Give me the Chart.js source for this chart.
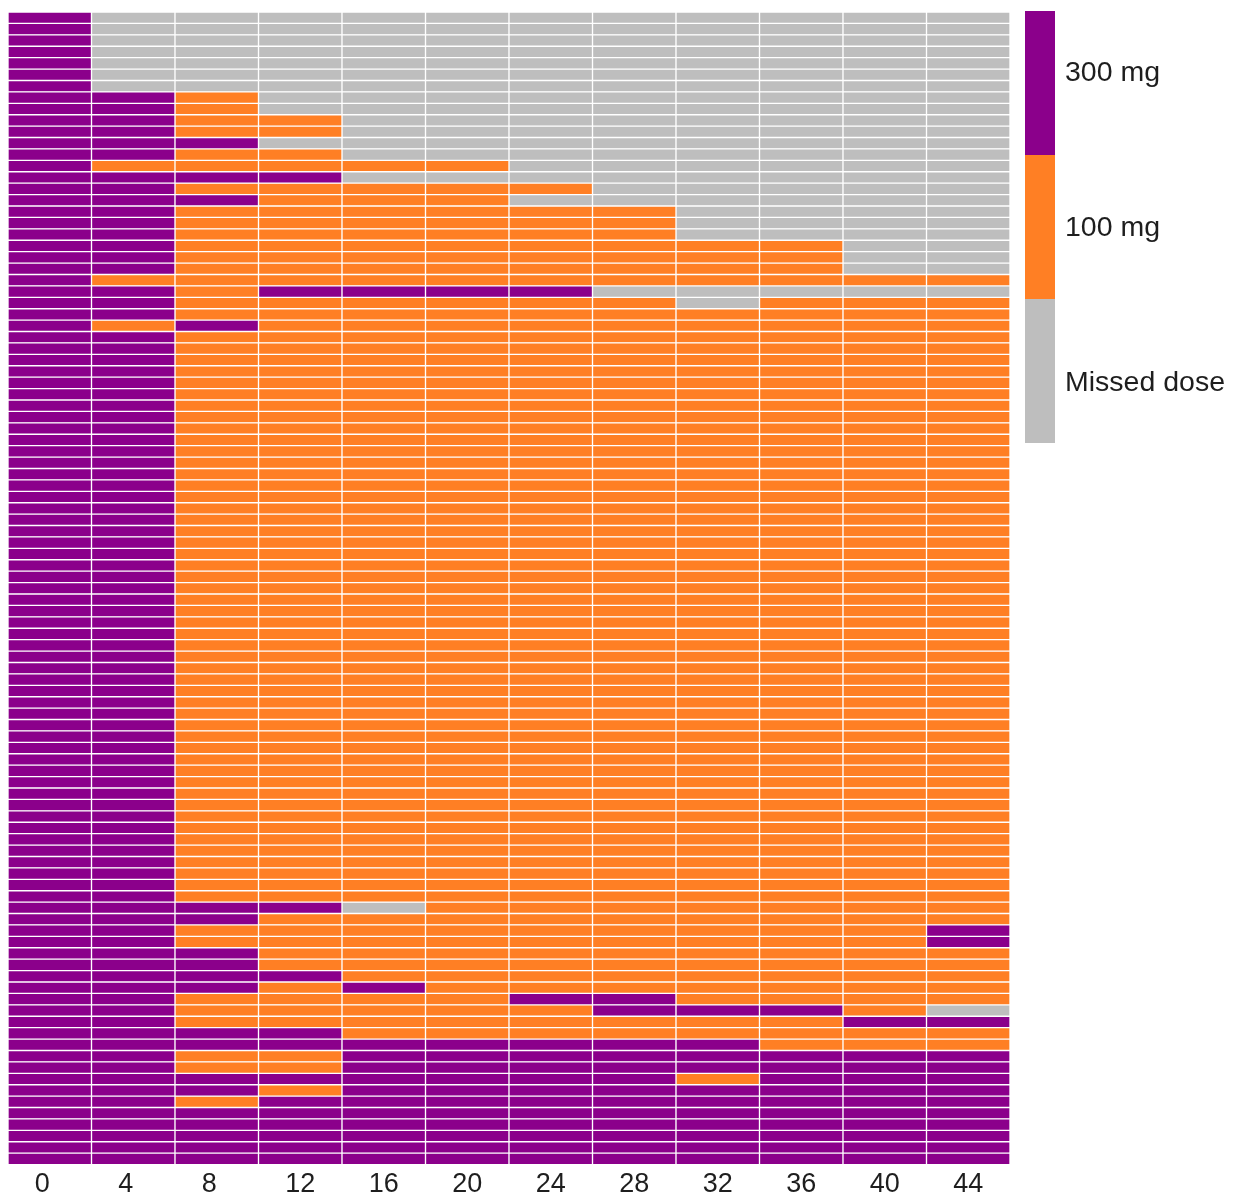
<!DOCTYPE html>
<html>
<head>
<meta charset="utf-8">
<script src="https://cdn.jsdelivr.net/npm/chart.js@4/dist/chart.umd.min.js"></script>
<style>
  html, body { margin: 0; padding: 0; background: #ffffff; }
  #wrap { width: 1239px; height: 1196px; position: relative; }
</style>
</head>
<body>
<div id="wrap"><canvas id="c" width="1239" height="1196"></canvas></div>
<script>
// Week categories (x axis tick labels)
const weeks = ['0', '4', '8', '12', '16', '20', '24', '28', '32', '36', '40', '44'];

// Dose status legend
const statusCodes = ['P', 'O', 'G'];
const statusLabels = ['300 mg', '100 mg', 'Missed dose'];
const statusColors = ['#8B008B', '#FF7F24', '#BEBEBE'];

// One string per week, one character per patient row (top to bottom), 101 patients.
// P = 300 mg, O = 100 mg, G = missed dose
const week0  = "PPPPPPPPPP PPPPPPPPPP PPPPPPPPPP PPPPPPPPPP PPPPPPPPPP PPPPPPPPPP PPPPPPPPPP PPPPPPPPPP PPPPPPPPPP PPPPPPPPPP P";
const week4  = "GGGGGGGPPP PPPOPPPPPP PPPOPPPOPP PPPPPPPPPP PPPPPPPPPP PPPPPPPPPP PPPPPPPPPP PPPPPPPPPP PPPPPPPPPP PPPPPPPPPP P";
const week8  = "GGGGGGGOOO OPOOPOPOOO OOOOOOOPOO OOOOOOOOOO OOOOOOOOOO OOOOOOOOOO OOOOOOOOOO OOOOOOOOPP OOPPPPOOOP POOPPOPPPP P";
const week12 = "GGGGGGGGGO OGOOPOOOOO OOOOPOOOOO OOOOOOOOOO OOOOOOOOOO OOOOOOOOOO OOOOOOOOOO OOOOOOOOPO OOOOPOOOOP POOPOPPPPP P";
const week16 = "GGGGGGGGGG GGGOGOOOOO OOOOPOOOOO OOOOOOOOOO OOOOOOOOOO OOOOOOOOOO OOOOOOOOOO OOOOOOOOGO OOOOOPOOOO PPPPPPPPPP P";
const week20 = "GGGGGGGGGG GGGOGOOOOO OOOOPOOOOO OOOOOOOOOO OOOOOOOOOO OOOOOOOOOO OOOOOOOOOO OOOOOOOOOO OOOOOOOOOO PPPPPPPPPP P";
const week24 = "GGGGGGGGGG GGGGGOGOOO OOOOPOOOOO OOOOOOOOOO OOOOOOOOOO OOOOOOOOOO OOOOOOOOOO OOOOOOOOOO OOOOOOPOOO PPPPPPPPPP P";
const week28 = "GGGGGGGGGG GGGGGGGOOO OOOOGOOOOO OOOOOOOOOO OOOOOOOOOO OOOOOOOOOO OOOOOOOOOO OOOOOOOOOO OOOOOOPPOO PPPPPPPPPP P";
const week32 = "GGGGGGGGGG GGGGGGGGGG OOOOGGOOOO OOOOOOOOOO OOOOOOOOOO OOOOOOOOOO OOOOOOOOOO OOOOOOOOOO OOOOOOOPOO PPPOPPPPPP P";
const week36 = "GGGGGGGGGG GGGGGGGGGG OOOOGOOOOO OOOOOOOOOO OOOOOOOOOO OOOOOOOOOO OOOOOOOOOO OOOOOOOOOO OOOOOOOPOO OPPPPPPPPP P";
const week40 = "GGGGGGGGGG GGGGGGGGGG GGGOGOOOOO OOOOOOOOOO OOOOOOOOOO OOOOOOOOOO OOOOOOOOOO OOOOOOOOOO OOOOOOOOPO OPPPPPPPPP P";
const week44 = "GGGGGGGGGG GGGGGGGGGG GGGOGOOOOO OOOOOOOOOO OOOOOOOOOO OOOOOOOOOO OOOOOOOOOO OOOOOOOOOO PPOOOOOGPO OPPPPPPPPP P";

const weekColumns = [week0, week4, week8, week12, week16, week20, week24, week28, week32, week36, week40, week44]
  .map(s => s.replace(/\s+/g, ''));
const nRows = weekColumns[0].length;

const datasets = statusCodes.map((code, si) => {
  const data = [];
  weekColumns.forEach((col, wi) => {
    for (let r = 0; r < col.length; r++) {
      if (col[r] === code) data.push({ x: weeks[wi], y: [r, r + 1] });
    }
  });
  return {
    label: statusLabels[si],
    data: data,
    backgroundColor: statusColors[si],
    borderColor: '#ffffff',
    borderWidth: 1,
    borderSkipped: false,
    barPercentage: 1.0,
    categoryPercentage: 1.0,
    grouped: false
  };
});

const legendPlugin = {
  id: 'colorLegend',
  afterDraw(chart) {
    const ctx = chart.ctx;
    const top = chart.chartArea.top - 1;
    const x0 = 1025, w = 30, segH = 144;
    const labelOffsets = [62, 217, 372];
    ctx.save();
    statusColors.forEach((c, i) => {
      ctx.fillStyle = c;
      ctx.fillRect(x0, top + i * segH, w, segH);
    });
    ctx.fillStyle = '#1e1e1e';
    ctx.font = '28.5px "Liberation Sans", Arial, sans-serif';
    ctx.textBaseline = 'middle';
    ctx.textAlign = 'left';
    statusLabels.forEach((t, i) => {
      ctx.fillText(t, x0 + 40, top + labelOffsets[i]);
    });
    ctx.restore();
  }
};

new Chart(document.getElementById('c'), {
  type: 'bar',
  data: { labels: weeks, datasets: datasets },
  options: {
    responsive: false,
    animation: false,
    layout: { padding: { left: 8, right: 229, top: 12, bottom: -9 } },
    plugins: { legend: { display: false }, tooltip: { enabled: false } },
    scales: {
      x: {
        type: 'category',
        offset: true,
        grid: { display: false, drawTicks: false },
        border: { display: false },
        ticks: {
          color: '#1e1e1e',
          font: { family: '"Liberation Sans", Arial, sans-serif', size: 27 },
          padding: 4,
          maxRotation: 0,
          callback: function (value, index) {
            return weeks[index].padEnd(2, '\u2007');
          }
        }
      },
      y: {
        type: 'linear',
        min: 0,
        max: nRows,
        reverse: true,
        display: false
      }
    }
  },
  plugins: [legendPlugin]
});
</script>
</body>
</html>
